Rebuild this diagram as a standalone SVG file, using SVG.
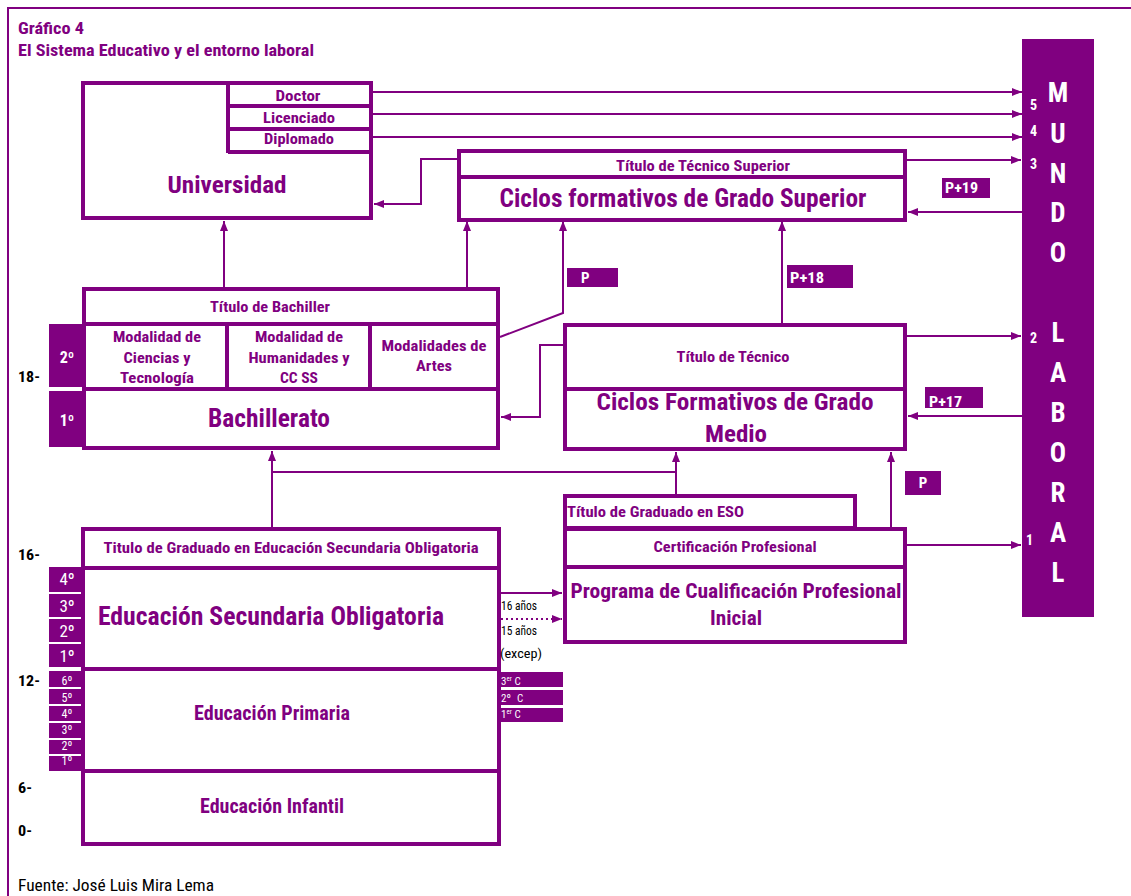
<svg xmlns="http://www.w3.org/2000/svg" width="1131" height="896" viewBox="0 0 1131 896">
<defs>
<style>
.box{fill:#fff;stroke:#800080;stroke-width:4}
.div{stroke:#800080;stroke-width:4;fill:none}
.con{stroke:#800080;stroke-width:2;fill:none}
.pf{fill:#800080}
text{font-family:"Roboto Condensed","Liberation Sans Narrow","DejaVu Sans Condensed","Liberation Sans",sans-serif;font-weight:bold}
.t{fill:#800080;text-anchor:middle}
.p{fill:#800080}
.w{fill:#fff}
.wm{fill:#fff;text-anchor:middle}
.k{fill:#000}
.n{font-weight:normal}
.big{fill:#fff;text-anchor:middle;font-size:27px}
</style>
<marker id="ah" markerUnits="userSpaceOnUse" markerWidth="10" markerHeight="8" refX="10" refY="4" orient="auto"><path d="M0,0 L10,4 L0,8 z" fill="#800080"/></marker>
</defs>
<rect width="1131" height="896" fill="#fff"/>
<path d="M8,896 V8 H1131" stroke="#800080" stroke-width="2" fill="none"/>
<g id="title">
<text class="p" x="18" y="34" font-size="16" textLength="66" lengthAdjust="spacingAndGlyphs">Gráfico 4</text>
<text class="p" x="18" y="56" font-size="16" textLength="296" lengthAdjust="spacingAndGlyphs">El Sistema Educativo y el entorno laboral</text>
</g>
<g id="ages" font-size="15">
<text class="k" x="18" y="382" textLength="22" lengthAdjust="spacingAndGlyphs">18-</text>
<text class="k" x="18" y="560" textLength="22" lengthAdjust="spacingAndGlyphs">16-</text>
<text class="k" x="18" y="686" textLength="22" lengthAdjust="spacingAndGlyphs">12-</text>
<text class="k" x="18" y="793" textLength="14" lengthAdjust="spacingAndGlyphs">6-</text>
<text class="k" x="18" y="836" textLength="14" lengthAdjust="spacingAndGlyphs">0-</text>
</g>
<g id="mundo-laboral">
<rect class="pf" x="1022" y="39" width="72" height="578"/>
<text class="big" x="1058" y="102">M</text>
<text class="big" x="1058" y="143">U</text>
<text class="big" x="1058" y="183">N</text>
<text class="big" x="1058" y="222">D</text>
<text class="big" x="1058" y="262">O</text>
<text class="big" x="1058" y="342">L</text>
<text class="big" x="1058" y="382">A</text>
<text class="big" x="1058" y="422">B</text>
<text class="big" x="1058" y="462">O</text>
<text class="big" x="1058" y="502">R</text>
<text class="big" x="1058" y="542">A</text>
<text class="big" x="1058" y="582">L</text>
<text class="w" x="1030" y="110" font-size="14">5</text>
<text class="w" x="1030" y="136" font-size="14">4</text>
<text class="w" x="1030" y="169" font-size="14">3</text>
<text class="w" x="1030" y="343" font-size="14">2</text>
<text class="w" x="1026" y="545" font-size="14">1</text>
</g>
<g id="universidad">
<rect class="box" x="83" y="83" width="288" height="135"/>
<path class="div" d="M228,83 V153 M228,106 H371 M228,129 H371 M228,152 H371"/>
<text class="t" x="298" y="101" font-size="15" textLength="45" lengthAdjust="spacingAndGlyphs">Doctor</text>
<text class="t" x="299" y="123" font-size="15" textLength="72" lengthAdjust="spacingAndGlyphs">Licenciado</text>
<text class="t" x="299" y="144" font-size="15" textLength="70" lengthAdjust="spacingAndGlyphs">Diplomado</text>
<text class="t" x="227" y="193" font-size="24" textLength="119" lengthAdjust="spacingAndGlyphs">Universidad</text>
</g>
<g id="ciclos-superior">
<rect class="box" x="459" y="151" width="446" height="69"/>
<path class="div" d="M459,177 H905"/>
<text class="t" x="703" y="171" font-size="15" textLength="174" lengthAdjust="spacingAndGlyphs">Título de Técnico Superior</text>
<text class="t" x="683" y="207" font-size="25" textLength="367" lengthAdjust="spacingAndGlyphs">Ciclos formativos de Grado Superior</text>
</g>
<g id="bachillerato">
<rect class="pf" x="49" y="324" width="35" height="63"/>
<rect class="pf" x="49" y="391" width="35" height="56"/>
<rect class="box" x="84" y="289" width="414" height="159"/>
<path class="div" d="M84,324 H498 M84,389 H498 M227,324 V389 M370,324 V389"/>
<text class="wm" x="67" y="363" font-size="16">2º</text>
<text class="wm" x="67" y="426" font-size="16">1º</text>
<text class="t" x="270" y="312" font-size="15" textLength="120" lengthAdjust="spacingAndGlyphs">Título de Bachiller</text>
<text class="t" x="157" y="342" font-size="15" textLength="88" lengthAdjust="spacingAndGlyphs">Modalidad de</text>
<text class="t" x="157" y="363" font-size="15" textLength="67" lengthAdjust="spacingAndGlyphs">Ciencias y</text>
<text class="t" x="157" y="383" font-size="15" textLength="74" lengthAdjust="spacingAndGlyphs">Tecnología</text>
<text class="t" x="299" y="342" font-size="15" textLength="88" lengthAdjust="spacingAndGlyphs">Modalidad de</text>
<text class="t" x="299" y="363" font-size="15" textLength="101" lengthAdjust="spacingAndGlyphs">Humanidades y</text>
<text class="t" x="299" y="383" font-size="15" textLength="38" lengthAdjust="spacingAndGlyphs">CC SS</text>
<text class="t" x="434" y="351" font-size="15" textLength="105" lengthAdjust="spacingAndGlyphs">Modalidades de</text>
<text class="t" x="434" y="371" font-size="15" textLength="36" lengthAdjust="spacingAndGlyphs">Artes</text>
<text class="t" x="269" y="427" font-size="26" textLength="122" lengthAdjust="spacingAndGlyphs">Bachillerato</text>
</g>
<g id="ciclos-medio">
<rect class="box" x="565" y="325" width="340" height="124"/>
<path class="div" d="M565,389 H905"/>
<text class="t" x="733" y="362" font-size="15" textLength="113" lengthAdjust="spacingAndGlyphs">Título de Técnico</text>
<text class="t" x="735" y="410" font-size="24" textLength="277" lengthAdjust="spacingAndGlyphs">Ciclos Formativos de Grado</text>
<text class="t" x="736" y="442" font-size="24" textLength="62" lengthAdjust="spacingAndGlyphs">Medio</text>
</g>
<g id="labels-p">
<rect class="pf" x="567" y="268" width="51" height="19"/>
<text class="w" x="581" y="283" font-size="15">P</text>
<rect class="pf" x="787" y="265" width="66" height="23"/>
<text class="w" x="790" y="283" font-size="15" textLength="34" lengthAdjust="spacingAndGlyphs">P+18</text>
<rect class="pf" x="942" y="178" width="48" height="20"/>
<text class="w" x="945" y="193" font-size="15" textLength="33" lengthAdjust="spacingAndGlyphs">P+19</text>
<rect class="pf" x="925" y="387" width="58" height="21"/>
<text class="w" x="929" y="407" font-size="15" textLength="33" lengthAdjust="spacingAndGlyphs">P+17</text>
<rect class="pf" x="905" y="471" width="36" height="24"/>
<text class="wm" x="923" y="488" font-size="15">P</text>
</g>
<g id="pcpi">
<rect class="box" x="565" y="496" width="290" height="32"/>
<rect class="box" x="565" y="529" width="340" height="113"/>
<path class="div" d="M565,567 H905"/>
<text class="p" x="567" y="517" font-size="15" textLength="177" lengthAdjust="spacingAndGlyphs">Título de Graduado en ESO</text>
<text class="t" x="735" y="552" font-size="15" textLength="163" lengthAdjust="spacingAndGlyphs">Certificación Profesional</text>
<text class="t" x="736" y="598" font-size="21" textLength="331" lengthAdjust="spacingAndGlyphs">Programa de Cualificación Profesional</text>
<text class="t" x="736" y="625" font-size="21" textLength="52" lengthAdjust="spacingAndGlyphs">Inicial</text>
</g>
<g id="eso">
<rect class="pf" x="49" y="567" width="35" height="25"/>
<rect class="pf" x="49" y="594" width="35" height="23"/>
<rect class="pf" x="49" y="619" width="35" height="23"/>
<rect class="pf" x="49" y="644" width="35" height="23"/>
<text class="wm n" x="67" y="585" font-size="17">4º</text>
<text class="wm n" x="67" y="612" font-size="17">3º</text>
<text class="wm n" x="67" y="637" font-size="17">2º</text>
<text class="wm n" x="67" y="662" font-size="17">1º</text>
<rect class="box" x="83" y="529" width="416" height="140"/>
<path class="div" d="M83,568 H499"/>
<text class="t" x="291" y="553" font-size="15" textLength="375" lengthAdjust="spacingAndGlyphs">Titulo de Graduado en Educación Secundaria Obligatoria</text>
<text class="t" x="271" y="625" font-size="26" textLength="346" lengthAdjust="spacingAndGlyphs">Educación Secundaria Obligatoria</text>
</g>
<g id="eso-side">
<rect class="pf" x="500" y="672" width="63" height="15"/>
<rect class="pf" x="500" y="690" width="63" height="15"/>
<rect class="pf" x="500" y="708" width="63" height="14"/>
<text class="w n" x="501" y="685" font-size="11">3<tspan font-size="7" dy="-4">er</tspan><tspan dy="4"> C</tspan></text>
<text class="w n" x="501" y="702" font-size="11">2º <tspan x="517">C</tspan></text>
<text class="w n" x="501" y="718" font-size="11">1<tspan font-size="7" dy="-4">er</tspan><tspan dy="4"> C</tspan></text>
<text class="k n" x="501" y="610" font-size="12" textLength="36" lengthAdjust="spacingAndGlyphs">16 años</text>
<text class="k n" x="501" y="635" font-size="12" textLength="36" lengthAdjust="spacingAndGlyphs">15 años</text>
<text class="k n" x="500" y="658" font-size="12" textLength="42" lengthAdjust="spacingAndGlyphs">(excep)</text>
</g>
<g id="primaria">
<rect class="pf" x="49" y="671" width="35" height="16"/>
<rect class="pf" x="49" y="689" width="35" height="15"/>
<rect class="pf" x="49" y="706" width="35" height="15"/>
<rect class="pf" x="49" y="723" width="35" height="15"/>
<rect class="pf" x="49" y="740" width="35" height="14"/>
<rect class="pf" x="49" y="756" width="35" height="15"/>
<text class="wm n" x="67" y="685" font-size="12">6º</text>
<text class="wm n" x="67" y="702" font-size="12">5º</text>
<text class="wm n" x="67" y="718" font-size="12">4º</text>
<text class="wm n" x="67" y="734" font-size="12">3º</text>
<text class="wm n" x="67" y="750" font-size="12">2º</text>
<text class="wm n" x="67" y="765" font-size="12">1º</text>
<rect class="box" x="83" y="669" width="416" height="102"/>
<text class="t" x="272" y="720" font-size="21" textLength="156" lengthAdjust="spacingAndGlyphs">Educación Primaria</text>
</g>
<g id="infantil">
<rect class="box" x="83" y="771" width="416" height="73"/>
<text class="t" x="272" y="813" font-size="21" textLength="144" lengthAdjust="spacingAndGlyphs">Educación Infantil</text>
</g>
<g id="connectors">
<path class="con" marker-end="url(#ah)" d="M373,92 H1022"/>
<path class="con" marker-end="url(#ah)" d="M373,114 H1022"/>
<path class="con" marker-end="url(#ah)" d="M373,137 H1022"/>
<path class="con" marker-end="url(#ah)" d="M907,160 H1021"/>
<path class="con" marker-end="url(#ah)" d="M1022,212 H908"/>
<path class="con" marker-end="url(#ah)" d="M457,159 H421 V204 H374"/>
<path class="con" marker-end="url(#ah)" d="M224,287 V221"/>
<path class="con" marker-end="url(#ah)" d="M467,287 V221"/>
<path class="con" marker-end="url(#ah)" d="M500,337 L563,313 V221"/>
<path class="con" marker-end="url(#ah)" d="M782,323 V221"/>
<path class="con" marker-end="url(#ah)" d="M907,336 H1021"/>
<path class="con" marker-end="url(#ah)" d="M1022,416 H908"/>
<path class="con" marker-end="url(#ah)" d="M563,345 H540 V417 H501"/>
<path class="con" marker-end="url(#ah)" d="M272,527 V451"/>
<path class="con" d="M272,472 H676"/>
<path class="con" marker-end="url(#ah)" d="M676,494 V452"/>
<path class="con" marker-end="url(#ah)" d="M891,527 V452"/>
<path class="con" marker-end="url(#ah)" d="M907,545 H1021"/>
<path class="con" marker-end="url(#ah)" d="M501,593 H562"/>
<path class="con" marker-end="url(#ah)" stroke-dasharray="2,3" d="M501,619 H562"/>
</g>
<text class="k n" x="18" y="891" font-size="17" textLength="196" lengthAdjust="spacingAndGlyphs">Fuente: José Luis Mira Lema</text>
</svg>
